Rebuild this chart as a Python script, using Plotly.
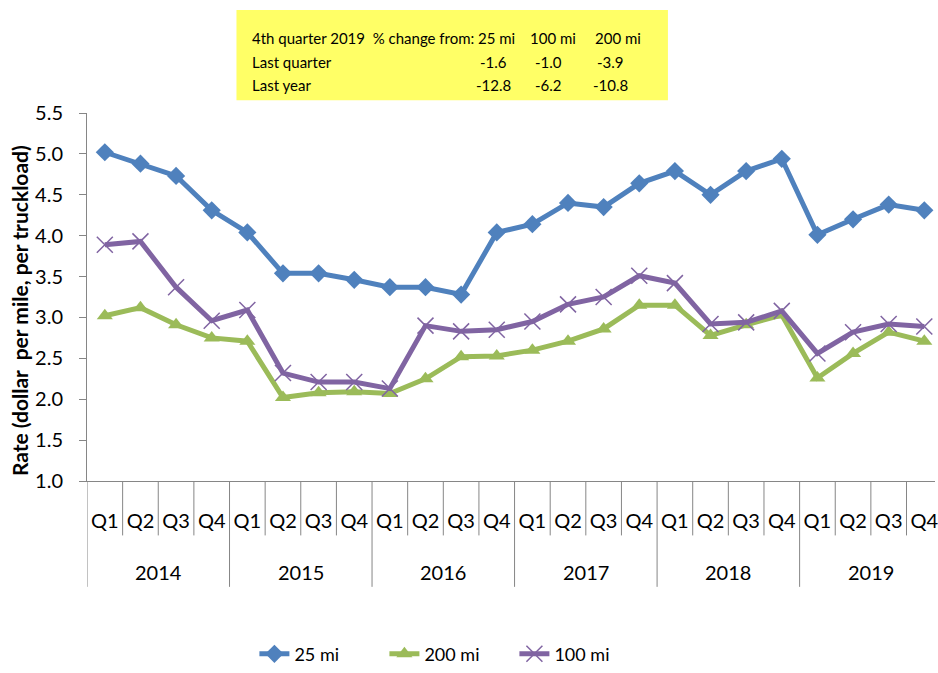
import plotly.graph_objects as go

# ---- data ----
years = ["2014", "2015", "2016", "2017", "2018", "2019"]
quarters = ["Q1", "Q2", "Q3", "Q4"]
mi25 = [5.02, 4.88, 4.73, 4.31, 4.04, 3.54, 3.54, 3.46, 3.37, 3.37, 3.28, 4.04,
        4.14, 4.40, 4.35, 4.64, 4.79, 4.50, 4.79, 4.94, 4.01, 4.20, 4.38, 4.31]
mi200 = [3.02, 3.12, 2.91, 2.75, 2.71, 2.02, 2.08, 2.09, 2.07, 2.25, 2.52, 2.53,
         2.60, 2.71, 2.86, 3.15, 3.15, 2.78, 2.91, 3.03, 2.26, 2.56, 2.82, 2.71]
mi100 = [3.89, 3.93, 3.37, 2.96, 3.09, 2.32, 2.21, 2.21, 2.13, 2.90, 2.83, 2.85,
         2.95, 3.16, 3.25, 3.51, 3.42, 2.92, 2.94, 3.08, 2.56, 2.82, 2.92, 2.89]
y_ticks = [1.0, 1.5, 2.0, 2.5, 3.0, 3.5, 4.0, 4.5, 5.0, 5.5]

table_title = "4th quarter 2019  % change from:"
table_cols = ["25 mi", "100 mi", "200 mi"]
table_rows = ["Last quarter", "Last year"]
table_vals = [["-1.6", "-1.0", "-3.9"], ["-12.8", "-6.2", "-10.8"]]

# ---- layout geometry ----
W, H = 938, 673
L, R, T, B = 87, 0, 113, 188
PW, PH = W - L - R, H - T - B
FONT = "Lato"
GRAY = "#868686"


def px(x):
    return (x - L) / PW


def py(y):
    return (H - B - y) / PH


n = len(years) * len(quarters)
xs = list(range(n))
qlabels = [q for _ in years for q in quarters]

fig = go.Figure()
fig.add_trace(go.Scatter(x=xs, y=mi25, name="25 mi", mode="lines+markers",
                         line=dict(color="#4F81BD", width=5),
                         marker=dict(symbol="diamond", size=14, color="#4F81BD")))
fig.add_trace(go.Scatter(x=xs, y=mi200, name="200 mi", mode="lines+markers",
                         line=dict(color="#9BBB59", width=5),
                         marker=dict(symbol="triangle-up", size=14, color="#9BBB59")))
fig.add_trace(go.Scatter(x=xs, y=mi100, name="100 mi", mode="lines+markers",
                         line=dict(color="#8064A2", width=5),
                         marker=dict(symbol="x-thin", size=16, color="#8064A2",
                                     line=dict(color="#8064A2", width=1.5))))

shapes = []
# category dividers
nq = len(quarters)
for k in range(n + 1):
    b = k - 0.5
    is_year = (k % nq == 0)
    shapes.append(dict(type="line", xref="x", yref="paper", x0=b, x1=b,
                       y0=0, y1=py(592 if is_year else 540),
                       line=dict(color=GRAY, width=1)))
# yellow box
shapes.append(dict(type="rect", xref="paper", yref="paper", layer="below",
                   x0=px(237), x1=px(670), y0=py(100), y1=py(9),
                   fillcolor="#FFFF66", line=dict(width=0)))

annotations = []
for i, yr in enumerate(years):
    annotations.append(dict(xref="x", yref="paper", x=i * nq + (nq - 1) / 2,
                            y=py(577), text=yr, showarrow=False,
                            xanchor="center", yanchor="middle",
                            font=dict(family=FONT, size=20, color="black")))
# y axis title
annotations.append(dict(xref="paper", yref="paper", x=px(20), y=py(313),
                        text="<b>Rate (dollar  per mile, per truckload)</b>",
                        textangle=-90, showarrow=False, xanchor="center",
                        yanchor="middle",
                        font=dict(family=FONT, size=21, color="black")))
# table texts
tf = dict(family=FONT, size=15, color="black")
row_y = [37, 61, 85]
annotations.append(dict(xref="paper", yref="paper", x=px(251), y=py(row_y[0]),
                        text=table_title, showarrow=False, xanchor="left",
                        yanchor="middle", font=tf))
head_x = [498, 555, 620]
val_x = [495, 550, 612]
for j, c in enumerate(table_cols):
    annotations.append(dict(xref="paper", yref="paper", x=px(head_x[j]), y=py(row_y[0]),
                            text=c, showarrow=False, xanchor="center",
                            yanchor="middle", font=tf))
for r, rl in enumerate(table_rows):
    annotations.append(dict(xref="paper", yref="paper", x=px(251), y=py(row_y[r + 1]),
                            text=rl, showarrow=False, xanchor="left",
                            yanchor="middle", font=tf))
    for j, v in enumerate(table_vals[r]):
        annotations.append(dict(xref="paper", yref="paper", x=px(val_x[j]),
                                y=py(row_y[r + 1]), text=v, showarrow=False,
                                xanchor="center", yanchor="middle", font=tf))

fig.update_layout(
    width=W, height=H,
    margin=dict(l=L, r=R, t=T, b=B, pad=0),
    paper_bgcolor="white", plot_bgcolor="white",
    font=dict(family=FONT, color="black"),
    showlegend=True,
    legend=dict(orientation="h", x=px(255), y=py(660), xanchor="left",
                yanchor="middle", font=dict(family=FONT, size=18, color="black"),
                bgcolor="rgba(0,0,0,0)", entrywidth=85, entrywidthmode="pixels"),
    xaxis=dict(range=[-0.5, 23.3], tickmode="array", tickvals=xs, ticktext=qlabels,
               showgrid=False, zeroline=False, showline=True, linecolor=GRAY,
               linewidth=1, ticks="", ticklabelstandoff=22,
               ticklabeloverflow="allow",
               tickfont=dict(family=FONT, size=20, color="black"), fixedrange=True),
    yaxis=dict(range=[1.0, 5.5], tickmode="array", tickvals=y_ticks,
               ticktext=[f"{v:.1f}" for v in y_ticks],
               showgrid=False, zeroline=False, showline=True, linecolor=GRAY,
               linewidth=1, ticks="outside", ticklen=7, tickcolor=GRAY,
               ticklabelstandoff=12,
               tickfont=dict(family=FONT, size=20, color="black"), fixedrange=True),
    shapes=shapes, annotations=annotations,
)

fig.write_html("out.html", config={"displayModeBar": False},
               post_script="document.body.style.margin='0px';"
                           "document.documentElement.style.overflow='hidden';")
